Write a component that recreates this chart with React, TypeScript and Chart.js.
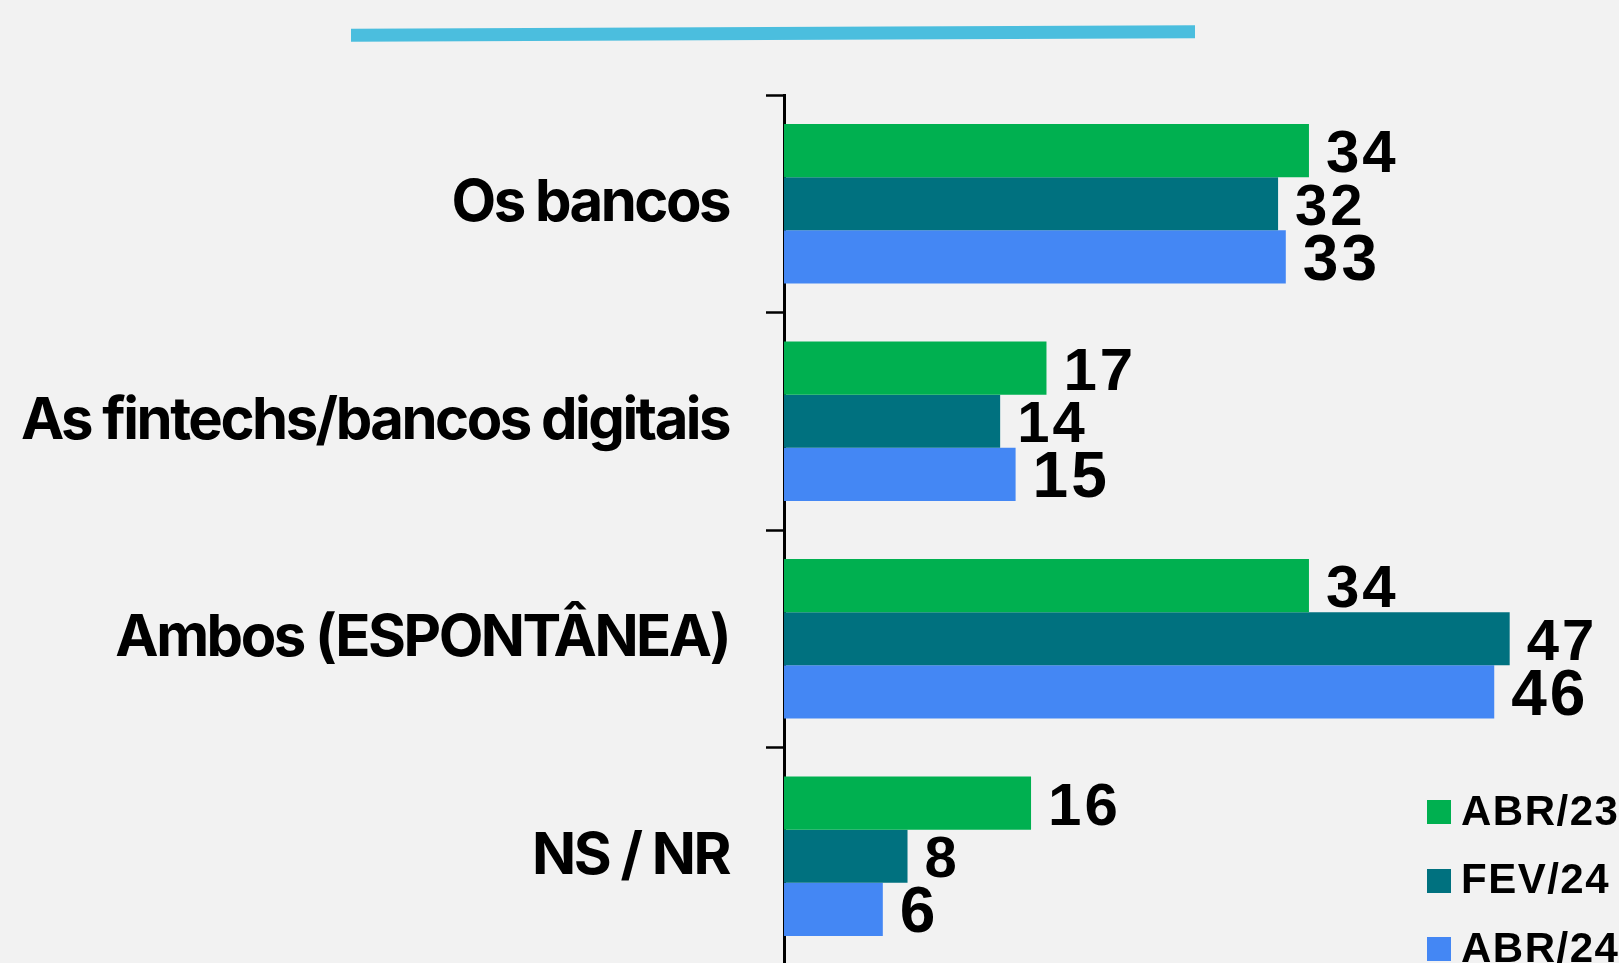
import React, { useEffect, useRef } from "react";
import { Chart, registerables } from "chart.js";

Chart.register(...registerables);

const categories = [
  "Os bancos",
  "As fintechs/bancos digitais",
  "Ambos (ESPONTÂNEA)",
  "NS / NR",
];
const seriesNames = ["ABR/23", "FEV/24", "ABR/24"];
const abr23 = [34, 17, 34, 16];
const fev24 = [32, 14, 47, 8];
const abr24 = [32.5, 15, 46, 6.4];
const seriesColors = ["#00B050", "#00717F", "#4487F4"];
const labelSizes = [60, 58, 64];

const W = 1619;
const H = 1000;

const valueLabels = {
  id: "valueLabels",
  afterDraw(chart: any) {
    const ctx = chart.ctx as CanvasRenderingContext2D;
    ctx.save();
    (ctx as any).letterSpacing = "3px";
    chart.data.datasets.forEach((ds: any, di: number) => {
      const meta = chart.getDatasetMeta(di);
      const size = labelSizes[di];
      ctx.font = `bold ${size}px "Liberation Sans", Arial, sans-serif`;
      ctx.fillStyle = "#000";
      ctx.textAlign = "left";
      ctx.textBaseline = "alphabetic";
      meta.data.forEach((bar: any, i: number) => {
        const v = ds.data[i] as number;
        ctx.fillText(String(Math.round(v)), bar.x + 17, bar.y + (size * 0.716) / 2);
      });
    });
    ctx.restore();
  },
};

const tightText = {
  id: "tightText",
  beforeDraw(chart: any) {
    (chart.ctx as any).letterSpacing = "-2.5px";
  },
};

export default function App() {
  const ref = useRef<HTMLCanvasElement | null>(null);

  useEffect(() => {
    if (!ref.current) return;
    const chart = new Chart(ref.current, {
      type: "bar",
      data: {
        labels: categories,
        datasets: [abr23, fev24, abr24].map((d, i) => ({
          label: seriesNames[i],
          data: d,
          backgroundColor: seriesColors[i],
          borderWidth: 0,
          barPercentage: 1,
          categoryPercentage: 0.733,
        })),
      },
      options: {
        indexAxis: "y",
        responsive: false,
        animation: false,
        layout: { padding: { left: 0, right: 63, top: 95, bottom: 35 } },
        plugins: {
          legend: { display: false },
          tooltip: { enabled: false },
        },
        scales: {
          x: {
            display: false,
            min: 0,
            max: 50,
          },
          y: {
            z: 1,
            afterFit: (scale: any) => {
              scale.width = 784;
              scale.paddingTop = 0;
              scale.paddingBottom = 0;
            },
            border: { display: true, color: "#000", width: 3 },
            grid: {
              display: true,
              drawOnChartArea: false,
              drawTicks: true,
              tickLength: 18,
              tickWidth: 2.5,
              tickColor: "#000",
              offset: true,
            },
            ticks: {
              color: "#000",
              padding: 37,
              font: { family: "Inter", weight: "bold", size: 58 },
              autoSkip: false,
            },
          },
        },
      },
      plugins: [tightText, valueLabels],
    });
    return () => chart.destroy();
  }, []);

  const legendTop = [800, 868.5, 937];

  return (
    <div
      style={{
        position: "fixed",
        left: 0,
        top: 0,
        width: W,
        height: 963,
        overflow: "hidden",
        background: "#F2F2F2",
      }}
    >
      <canvas
        ref={ref}
        width={W}
        height={H}
        style={{ position: "absolute", left: 0, top: 0, width: W, height: H, display: "block" }}
      />
      <svg
        width={W}
        height={80}
        style={{ position: "absolute", left: 0, top: 0 }}
      >
        <line x1={351} y1={35.2} x2={1195} y2={31.8} stroke="#4BBEDE" strokeWidth={13} />
      </svg>
      {seriesNames.map((name, i) => (
        <div key={name}>
          <div
            style={{
              position: "absolute",
              left: 1427,
              top: legendTop[i],
              width: 24,
              height: 24,
              background: seriesColors[i],
            }}
          />
          <div
            style={{
              position: "absolute",
              left: 1461,
              top: legendTop[i] - 10.5,
              fontFamily: '"Liberation Sans", Arial, sans-serif',
              fontWeight: "bold",
              fontSize: 42,
              lineHeight: "42px",
              letterSpacing: "1.5px",
              color: "#000",
              whiteSpace: "nowrap",
            }}
          >
            {name}
          </div>
        </div>
      ))}
    </div>
  );
}
